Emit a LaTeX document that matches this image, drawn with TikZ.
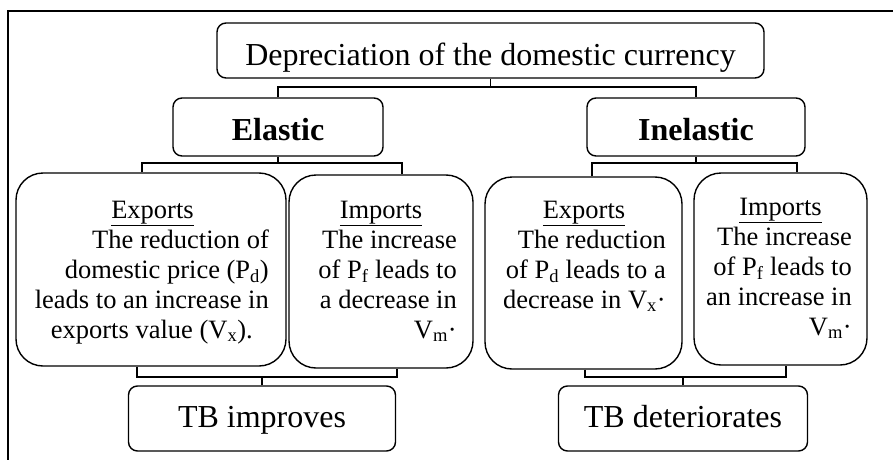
\documentclass[tikz,border=0pt]{standalone}
\usepackage{fontspec}
\setmainfont{Liberation Serif}
\begin{document}
\begin{tikzpicture}[x=1pt,y=-1pt,
  box/.style={draw, line width=1.4pt, rounded corners=9pt, inner sep=0pt, align=center},
  bigbox/.style={draw, line width=1.4pt, rounded corners=27pt, inner sep=0pt},
  link/.style={line width=1.1pt},
  frame/.style={line width=1.4pt},
  bodytext/.style={inner sep=0pt, anchor=north east, font=\fontsize{26.5}{30}\selectfont},
  headtext/.style={inner sep=0pt, anchor=base, font=\fontsize{26.5}{30}\selectfont},
]
\useasboundingbox (0,0) rectangle (893,460);
\draw[frame] (893,11) -- (8,11) -- (8,460);

% top level
\node[box, minimum width=547pt, minimum height=55pt, text height=31pt, text depth=2pt,
  font=\fontsize{32}{36}\selectfont] (top) at (490.5,50.5) {Depreciation of the domestic currency};
\node[box, minimum width=210pt, minimum height=58pt, text height=28pt, text depth=2pt,
  font=\fontsize{32}{36}\selectfont\bfseries] (elastic) at (278,127) {Elastic};
\node[box, minimum width=218pt, minimum height=58pt, text height=28pt, text depth=2pt,
  font=\fontsize{32}{36}\selectfont\bfseries] (inelastic) at (696,127) {Inelastic};

% middle boxes
\node[bigbox, minimum width=270pt, minimum height=193pt] (b1) at (151,269.5) {};
\node[bigbox, minimum width=184pt, minimum height=193pt] (b2) at (381,271.5) {};
\node[bigbox, minimum width=197pt, minimum height=192pt] (b3) at (583.5,273) {};
\node[bigbox, minimum width=173pt, minimum height=192pt] (b4) at (780.5,269) {};

\node[headtext] (h1) at (152.5,218) {\underline{Exports}};
\node[headtext] (h2) at (381,218) {\underline{Imports}};
\node[headtext] (h3) at (584,218) {\underline{Exports}};
\node[headtext] (h4) at (780.5,215) {\underline{Imports}};

\node[bodytext] (t1) at (269,227) {\begin{tabular}{@{}r@{}}
The reduction of\\
domestic price (P\textsubscript{d})\\
leads to an increase in\\
\multicolumn{1}{@{}c@{}}{exports value (V\textsubscript{x}).}
\end{tabular}};
\node[bodytext] (t2) at (457,227) {\begin{tabular}{@{}r@{}}
The increase\\
of P\textsubscript{f} leads to\\
a decrease in\\
V\textsubscript{m}·
\end{tabular}};
\node[bodytext] (t3) at (666,227) {\begin{tabular}{@{}r@{}}
The reduction\\
of P\textsubscript{d} leads to a\\
decrease in V\textsubscript{x}·
\end{tabular}};
\node[bodytext] (t4) at (852,224) {\begin{tabular}{@{}r@{}}
The increase\\
of P\textsubscript{f} leads to\\
an increase in\\
V\textsubscript{m}·
\end{tabular}};

% results
\node[box, minimum width=267pt, minimum height=65pt, text height=22pt, text depth=5pt,
  font=\fontsize{32}{36}\selectfont] (tb1) at (262,418.5) {TB improves};
\node[box, minimum width=249pt, minimum height=65pt, text height=22pt, text depth=5pt,
  font=\fontsize{32}{36}\selectfont] (tb2) at (683,418.5) {TB deteriorates};

% connectors
\coordinate (busA) at (490.5,87);
\draw[link] (top.south) -- (busA);
\draw[link] (elastic.north) |- (busA) -| (inelastic.north);

\coordinate (e1) at (142,163);
\coordinate (e2) at (402,163);
\draw[link] (elastic.south) -- (elastic.south |- e1);
\draw[link] (e1 |- b1.north) -- (e1) -- (e2) -- (e2 |- b2.north);

\coordinate (i1) at (592,163);
\coordinate (i2) at (797,163);
\draw[link] (inelastic.south) -- (inelastic.south |- i1);
\draw[link] (i1 |- b3.north) -- (i1) -- (i2) -- (i2 |- b4.north);

\coordinate (f1) at (137,377);
\coordinate (f2) at (397,377);
\draw[link] (f1 |- b1.south) -- (f1) -- (f2) -- (f2 |- b2.south);
\draw[link] (tb1.north) -- (tb1.north |- f1);

\coordinate (g1) at (585,377);
\coordinate (g2) at (786,377);
\draw[link] (g1 |- b3.south) -- (g1) -- (g2) -- (g2 |- b4.south);
\draw[link] (tb2.north) -- (tb2.north |- g1);
\end{tikzpicture}
\end{document}
